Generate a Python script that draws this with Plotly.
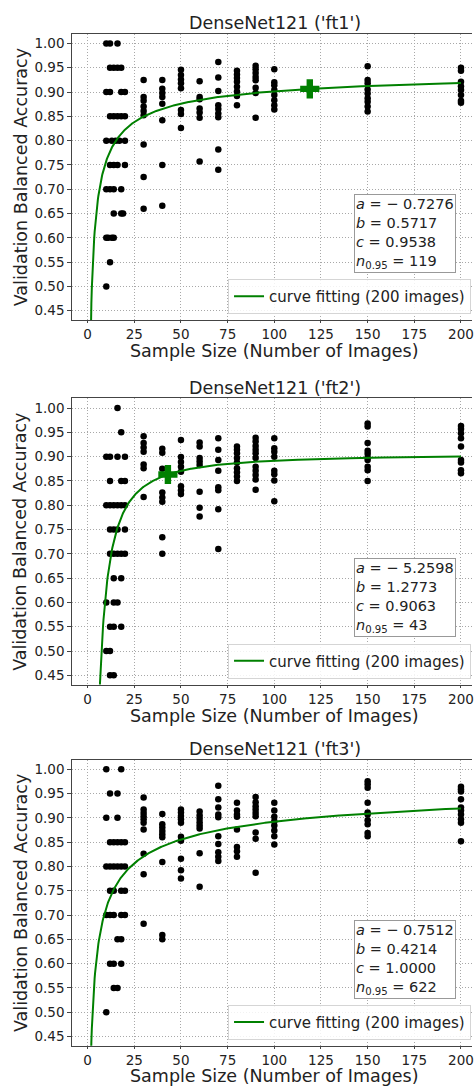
import plotly.graph_objects as go

W, H = 474, 1086

# ---------------- data ----------------
panel_titles = ["DenseNet121 ('ft1')", "DenseNet121 ('ft2')", "DenseNet121 ('ft3')"]
x_ticks = [0, 25, 50, 75, 100, 125, 150, 175, 200]
y_ticks = [0.45, 0.50, 0.55, 0.60, 0.65, 0.70, 0.75, 0.80, 0.85, 0.90, 0.95, 1.00]
y_tick_labels = ["%.2f" % v for v in y_ticks]
x_label = "Sample Size (Number of Images)"
y_label = "Validation Balanced Accuracy"
legend_label = "curve fitting (200 images)"

fit_a = [-0.7276, -5.2598, -0.7512]
fit_b = [0.5717, 1.2773, 0.4214]
fit_c = [0.9538, 0.9063, 1.0000]
n_095 = [119, 43, 622]

ft1_points = [
    (10, [1.00, 0.90, 0.80, 0.70, 0.60, 0.50]),
    (11, [0.60]),
    (12, [1.00, 0.95, 0.90, 0.85, 0.75, 0.70, 0.55]),
    (13, [0.80, 0.60]),
    (14, [0.95, 0.85, 0.75, 0.70, 0.65, 0.60]),
    (15, [0.80]),
    (16, [1.00, 0.95, 0.85, 0.75]),
    (17, [0.80]),
    (18, [0.95, 0.90, 0.85, 0.70, 0.65]),
    (19, [0.65]),
    (20, [0.90, 0.85, 0.80, 0.75]),
    (30, [0.925, 0.890, 0.882, 0.870, 0.861, 0.852, 0.792, 0.725, 0.660]),
    (40, [0.925, 0.907, 0.898, 0.890, 0.876, 0.842, 0.750, 0.666]),
    (50, [0.946, 0.935, 0.926, 0.918, 0.908, 0.863, 0.855, 0.826]),
    (60, [0.922, 0.890, 0.885, 0.866, 0.858, 0.847, 0.757]),
    (70, [0.962, 0.930, 0.902, 0.873, 0.865, 0.856, 0.848, 0.782, 0.740]),
    (80, [0.944, 0.936, 0.929, 0.921, 0.911, 0.901, 0.892, 0.873]),
    (90, [0.954, 0.947, 0.939, 0.931, 0.924, 0.909, 0.898, 0.847]),
    (100, [0.947, 0.920, 0.914, 0.904, 0.894, 0.883, 0.873, 0.864]),
    (150, [0.953, 0.925, 0.918, 0.905, 0.897, 0.887, 0.880, 0.870, 0.860]),
    (200, [0.950, 0.944, 0.921, 0.912, 0.904, 0.894, 0.882, 0.878]),
]

ft2_points = [
    (10, [0.90, 0.80, 0.60, 0.50]),
    (12, [0.90, 0.85, 0.80, 0.75, 0.70, 0.55, 0.50, 0.45]),
    (14, [0.80, 0.75, 0.70, 0.65, 0.60, 0.55, 0.45]),
    (16, [1.00, 0.90, 0.80, 0.75, 0.70, 0.60]),
    (18, [0.95, 0.85, 0.80, 0.70, 0.65, 0.55]),
    (20, [0.90, 0.85, 0.80, 0.75, 0.70]),
    (30, [0.942, 0.928, 0.919, 0.910, 0.884, 0.876, 0.817]),
    (40, [0.916, 0.908, 0.875, 0.826, 0.816, 0.807, 0.734, 0.700]),
    (50, [0.934, 0.899, 0.889, 0.879, 0.869, 0.839, 0.831, 0.823]),
    (60, [0.929, 0.921, 0.897, 0.890, 0.883, 0.828, 0.795, 0.777]),
    (70, [0.938, 0.914, 0.893, 0.871, 0.837, 0.831, 0.792, 0.710]),
    (80, [0.921, 0.914, 0.907, 0.897, 0.888, 0.876, 0.868, 0.859, 0.850]),
    (90, [0.939, 0.931, 0.922, 0.914, 0.907, 0.897, 0.879, 0.871, 0.862, 0.853, 0.832]),
    (100, [0.938, 0.917, 0.910, 0.900, 0.871, 0.864, 0.851, 0.808]),
    (150, [0.968, 0.962, 0.928, 0.912, 0.906, 0.898, 0.893, 0.879, 0.872, 0.850]),
    (200, [0.963, 0.957, 0.948, 0.938, 0.921, 0.893, 0.888, 0.872, 0.866]),
]

ft3_points = [
    (10, [1.00, 0.90, 0.80, 0.70, 0.50]),
    (12, [0.95, 0.85, 0.80, 0.75, 0.70, 0.60]),
    (14, [0.85, 0.80, 0.75, 0.70, 0.60, 0.55]),
    (16, [0.95, 0.90, 0.85, 0.80, 0.65, 0.55]),
    (18, [1.00, 0.85, 0.80, 0.75, 0.70, 0.65, 0.60]),
    (20, [0.85, 0.80, 0.75, 0.70]),
    (30, [0.942, 0.917, 0.910, 0.903, 0.897, 0.890, 0.876, 0.826, 0.784, 0.682]),
    (40, [0.908, 0.887, 0.880, 0.873, 0.866, 0.860, 0.809, 0.659, 0.650]),
    (50, [0.917, 0.911, 0.904, 0.897, 0.890, 0.861, 0.853, 0.816, 0.792, 0.775]),
    (60, [0.913, 0.905, 0.898, 0.891, 0.884, 0.878, 0.827, 0.758]),
    (70, [0.966, 0.938, 0.921, 0.907, 0.901, 0.862, 0.846, 0.829, 0.820, 0.811]),
    (80, [0.931, 0.915, 0.907, 0.902, 0.876, 0.840, 0.831, 0.820]),
    (90, [0.943, 0.932, 0.924, 0.917, 0.910, 0.903, 0.870, 0.857, 0.787]),
    (100, [0.931, 0.915, 0.902, 0.893, 0.884, 0.874, 0.862, 0.845]),
    (150, [0.975, 0.969, 0.962, 0.931, 0.911, 0.907, 0.895, 0.887, 0.869, 0.862]),
    (200, [0.964, 0.959, 0.954, 0.938, 0.921, 0.915, 0.907, 0.897, 0.890, 0.852]),
]

panels_points = [ft1_points, ft2_points, ft3_points]

# ---------------- layout geometry (pixels) ----------------
FONT = "DejaVu Sans"
TXT = "#222222"
GRID = "#a8a8a8"
panel_top = [33.7, 398.3, 759.5]
panel_h = 286.3
plot_left = 72.0
x_range = [-8.53, 205.9]
y_range = [0.431, 1.02]


def py(p):
    return 1 - p / H


def px(p):
    return p / W


fig = go.Figure()
layout = dict(
    width=W, height=H,
    margin=dict(l=0, r=0, t=0, b=0),
    paper_bgcolor="white", plot_bgcolor="white",
    font=dict(family=FONT, color=TXT),
    showlegend=True,
    annotations=[],
)

for i in range(3):
    k = "" if i == 0 else str(i + 1)
    xa, ya = "x" + k, "y" + k
    top = panel_top[i]
    bot = top + panel_h

    xs, ys = [], []
    for n, vals in panels_points[i]:
        for v in vals:
            xs.append(n)
            ys.append(v)
    fig.add_trace(go.Scatter(
        x=xs, y=ys, mode="markers", xaxis=xa, yaxis=ya, showlegend=False,
        marker=dict(color="black", size=6.5, line=dict(width=0)),
    ))

    a, b, c = fit_a[i], fit_b[i], fit_c[i]
    cx = [1 + j * 0.25 for j in range(int((200 - 1) / 0.25) + 1)]
    cy = [a * (t ** (-b)) + c for t in cx]
    legend_name = "legend" if i == 0 else "legend" + str(i + 1)
    fig.add_trace(go.Scatter(
        x=cx, y=cy, mode="lines", xaxis=xa, yaxis=ya,
        line=dict(color="green", width=2), name=legend_label,
        legend=legend_name, showlegend=True,
    ))
    nn = n_095[i]
    fig.add_trace(go.Scatter(
        x=[nn], y=[a * nn ** (-b) + c], mode="markers", xaxis=xa, yaxis=ya,
        showlegend=False,
        marker=dict(symbol="cross", color="green", size=16, line=dict(width=0)),
    ))

    layout["xaxis" + k] = dict(
        domain=[px(plot_left), 1.0], anchor=ya, range=x_range,
        tickvals=x_ticks, ticktext=[str(t) for t in x_ticks],
        showgrid=True, gridcolor=GRID, griddash="1px,2px", gridwidth=1,
        showline=True, linecolor="#444444", linewidth=1, mirror=True,
        ticks="outside", ticklen=2, tickcolor="#444444",
        ticklabeloverflow="allow",
        tickfont=dict(size=13.5, color=TXT, family=FONT), zeroline=False,
    )
    layout["yaxis" + k] = dict(
        domain=[py(bot), py(top)], anchor=xa, range=y_range,
        tickvals=y_ticks, ticktext=y_tick_labels,
        showgrid=True, gridcolor=GRID, griddash="1px,2px", gridwidth=1,
        showline=True, linecolor="#444444", linewidth=1, mirror=False,
        ticks="outside", ticklen=3.5, tickcolor="#444444",
        ticklabeloverflow="allow",
        tickfont=dict(size=13.5, color=TXT, family=FONT), zeroline=False,
    )
    layout[legend_name] = dict(
        x=px(229), xanchor="left", y=py(bot - 6), yanchor="bottom",
        bgcolor="rgba(255,255,255,0.85)", bordercolor="#d5d5d5", borderwidth=1,
        font=dict(size=15, color=TXT, family=FONT), itemwidth=30,
    )

    # title
    layout["annotations"].append(dict(
        text=panel_titles[i], x=px(276), y=py(top - 10.5), xref="paper", yref="paper",
        xanchor="center", yanchor="middle", showarrow=False,
        font=dict(size=17.5, color=TXT, family=FONT),
    ))
    # x label
    layout["annotations"].append(dict(
        text=x_label, x=px(276), y=py(min(bot + 31, H - 10.5)), xref="paper", yref="paper",
        xanchor="center", yanchor="middle", showarrow=False,
        font=dict(size=17.5, color=TXT, family=FONT),
    ))
    # y label
    layout["annotations"].append(dict(
        text=y_label, x=px(20.5), y=py(top + panel_h / 2), xref="paper", yref="paper",
        xanchor="center", yanchor="middle", showarrow=False, textangle=-90,
        font=dict(size=17.5, color=TXT, family=FONT),
    ))
    # parameter box
    box_txt = ("<i>a</i> = \u2212 %.4f<br><i>b</i> = %.4f<br><i>c</i> = %.4f<br><i>n</i><sub>0.95</sub> = %d"
               % (abs(a), b, c, nn))
    layout["annotations"].append(dict(
        text=box_txt, x=px(355), y=py(top + 160), xref="paper", yref="paper",
        xanchor="left", yanchor="top", showarrow=False, align="left",
        font=dict(size=14.5, color=TXT, family=FONT),
        bgcolor="white", bordercolor="#999999", borderwidth=1, borderpad=1,
    ))

fig.update_layout(**layout)
fig.write_html("out.html")
